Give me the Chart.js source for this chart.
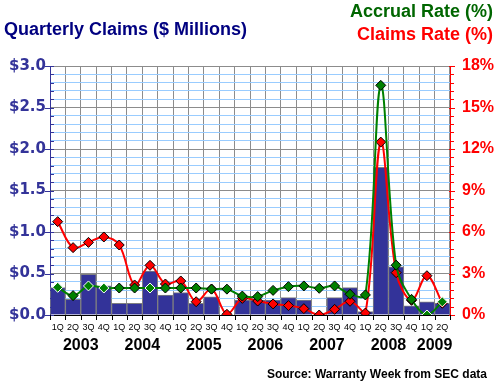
<!DOCTYPE html>
<html>
<head>
<meta charset="utf-8">
<script src="https://cdn.jsdelivr.net/npm/chart.js@4"></script>
<style>
html,body{margin:0;padding:0;background:#fff;}
canvas{display:block;}
</style>
</head>
<body>
<canvas id="c" width="500" height="387"></canvas>
<script>
const quarters = ['1Q','2Q','3Q','4Q','1Q','2Q','3Q','4Q','1Q','2Q','3Q','4Q','1Q','2Q','3Q','4Q','1Q','2Q','3Q','4Q','1Q','2Q','3Q','4Q','1Q','2Q'];
const years = ['2003','2004','2005','2006','2007','2008','2009'];
const yearStart = [0,4,8,12,16,20,24];
const yearEnd = [3,7,11,15,19,23,25];
const claimsMillions = [0.33,0.19,0.49,0.35,0.14,0.14,0.53,0.24,0.27,0.14,0.22,0.00,0.18,0.18,0.18,0.21,0.18,0.00,0.21,0.33,0.04,1.78,0.58,0.11,0.16,0.14];
const accrualRate = [2.0,1.4,2.1,1.95,1.95,1.95,1.95,1.95,1.95,1.95,1.87,1.87,1.37,1.33,1.78,2.05,2.1,1.93,2.1,1.5,1.45,16.6,3.6,1.13,0.0,0.95];
const claimsRate = [6.75,4.87,5.25,5.64,5.06,2.17,3.59,2.24,2.46,0.96,1.88,0.05,1.2,1.01,0.8,0.68,0.46,0.0,0.41,0.99,0.14,12.5,3.06,1.06,2.84,0.85];
const leftTicks = [0,0.5,1.0,1.5,2.0,2.5,3.0];
const rightTicks = [0,3,6,9,12,15,18];

const NAVY = '#333399';
const GREEN = '#008000';
const RED = '#ff0000';
const GRID = '#8c8c8c';
const MINOR = '#99ccff';

const accrualBorders = accrualRate.map((v,i)=>[0,2,3,6,24,25].includes(i)?'#ffffff':'#000000');

const extras = {
  id:'extras',
  afterDraw(chart){
    const ctx = chart.ctx;
    const x = chart.scales.x, y = chart.scales.y, y1 = chart.scales.y1;
    const L = chart.chartArea.left, R = chart.chartArea.right, B = chart.chartArea.bottom;
    ctx.save();
    ctx.lineWidth = 1;
    // left ticks
    ctx.strokeStyle = NAVY;
    for (let k=0;k<=30;k++){
      const py = Math.round(y.getPixelForValue(k/10))+0.5;
      ctx.beginPath();
      if (k%5===0){ctx.moveTo(L-5,py);ctx.lineTo(L+4,py);} else {ctx.moveTo(L,py);ctx.lineTo(L+4,py);}
      ctx.stroke();
    }
    // right ticks
    ctx.strokeStyle = RED;
    for (let k=0;k<=30;k++){
      const py = Math.round(y1.getPixelForValue(k*0.6))+0.5;
      ctx.beginPath();
      if (k%5===0){ctx.moveTo(R-1,py);ctx.lineTo(R+5,py);} else {ctx.moveTo(R,py);ctx.lineTo(R+4,py);}
      ctx.stroke();
    }
    // bottom ticks
    ctx.strokeStyle = '#000';
    const n = quarters.length;
    const w = (x.getPixelForValue(1)-x.getPixelForValue(0));
    for (let i=0;i<=n;i++){
      const px = Math.round(x.getPixelForValue(0) - w/2 + i*w)+0.5;
      ctx.beginPath();ctx.moveTo(px,B);ctx.lineTo(px,B+5);ctx.stroke();
    }
    // years
    ctx.fillStyle = '#000';
    ctx.font = 'bold 16px "Liberation Sans", Arial, sans-serif';
    ctx.textAlign = 'center';
    ctx.textBaseline = 'middle';
    years.forEach((yr,j)=>{
      const cx = (x.getPixelForValue(yearStart[j]) + x.getPixelForValue(yearEnd[j]))/2;
      ctx.fillText(yr, cx, 346);
    });
    // titles
    ctx.textAlign = 'left';
    ctx.font = 'bold 18px "Liberation Sans", Arial, sans-serif';
    ctx.fillStyle = '#000080';
    ctx.fillText('Quarterly Claims ($ Millions)', 4, 30);
    ctx.textAlign = 'right';
    ctx.fillStyle = '#006600';
    ctx.fillText('Accrual Rate (%)', 493, 12);
    ctx.fillStyle = RED;
    ctx.fillText('Claims Rate (%)', 493, 35);
    ctx.fillStyle = '#000';
    ctx.font = 'bold 12px "Liberation Sans", Arial, sans-serif';
    ctx.fillText('Source: Warranty Week from SEC data', 487, 375);
    ctx.restore();
  }
};

new Chart(document.getElementById('c'), {
  type:'bar',
  data:{
    labels: quarters,
    datasets:[
      {type:'line', label:'Accrual Rate (%)', data: accrualRate, yAxisID:'y1', order:1,
       borderColor:GREEN, borderWidth:2, tension:0.35, fill:false,
       pointStyle:'rectRot', pointRadius:5, pointBackgroundColor:GREEN,
       pointBorderColor: accrualBorders, pointBorderWidth:1},
      {type:'line', label:'Claims Rate (%)', data: claimsRate, yAxisID:'y1', order:2,
       borderColor:RED, borderWidth:2, tension:0.35, fill:false,
       pointStyle:'rectRot', pointRadius:5, pointBackgroundColor:RED,
       pointBorderColor:'#000', pointBorderWidth:1},
      {type:'bar', label:'Quarterly Claims', data: claimsMillions, yAxisID:'y', order:3,
       backgroundColor:NAVY, borderColor:'#808080', borderWidth:1,
       barPercentage:1, categoryPercentage:1}
    ]
  },
  options:{
    responsive:false,
    animation:false,
    devicePixelRatio:1,
    layout:{padding:{top:66,left:0,right:0,bottom:0}},
    plugins:{legend:{display:false}, tooltip:{enabled:false}},
    scales:{
      x:{
        offset:true,
        grid:{offset:true, color:GRID, drawTicks:false},
        border:{color:'#000'},
        ticks:{font:{family:'Liberation Sans', size:9}, color:'#000', padding:7, maxRotation:0, autoSkip:false},
        afterFit(s){ s.height = 72; }
      },
      y:{
        position:'left', min:0, max:3,
        ticks:{stepSize:0.1, autoSkip:false, padding:4, color:NAVY,
          font:{family:'DejaVu Sans', weight:'bold', size:15},
          callback(v){ const r=Math.round(v*10); return r%5===0 ? '$'+(r/10).toFixed(1) : ''; }},
        grid:{drawTicks:false, color(ctx){ const r=Math.round(ctx.tick.value*10); return r%5===0?GRID:MINOR; }},
        border:{color:NAVY},
        afterFit(s){ s.width = 50; }
      },
      y1:{
        position:'right', min:0, max:18,
        ticks:{stepSize:0.6, autoSkip:false, padding:12, color:RED,
          font:{family:'Liberation Sans', weight:'bold', size:16},
          callback(v){ const r=Math.round(v*10); return r%30===0 ? (r/10)+'%' : ''; }},
        grid:{drawOnChartArea:false, drawTicks:false},
        border:{color:RED},
        afterFit(s){ s.width = 50; }
      }
    }
  },
  plugins:[extras]
});
</script>
</body>
</html>
